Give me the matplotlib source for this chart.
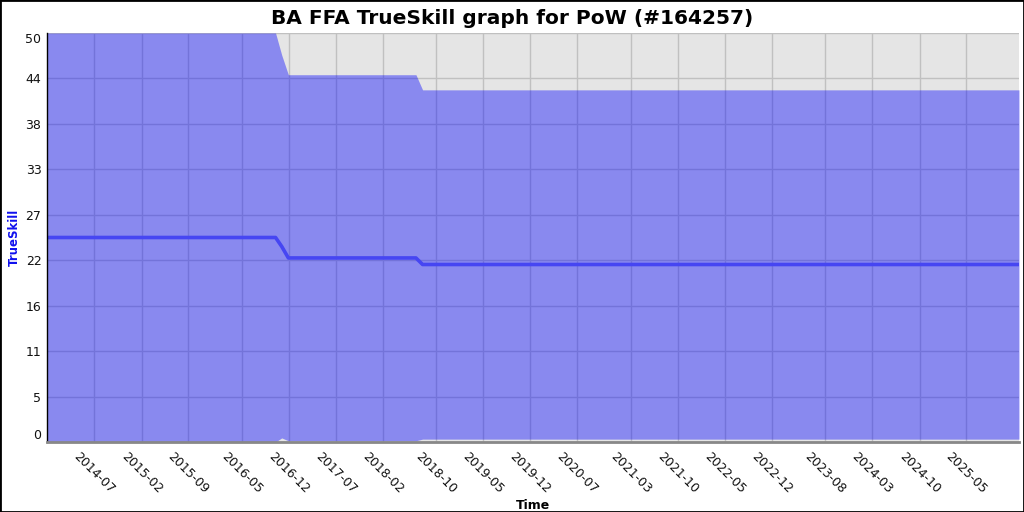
#!/usr/bin/env python3
"""TrueSkill history chart: mean line with a +/- 3 sigma band."""

import matplotlib

matplotlib.use("Agg")
import matplotlib.dates as mdates
import matplotlib.pyplot as plt
import numpy as np
import pandas as pd
from matplotlib.patches import Rectangle

TITLE = "BA FFA TrueSkill graph for PoW (#164257)"

# data
dates = pd.to_datetime([
    "2013-11-29", "2016-10-01", "2016-10-29", "2016-11-28",
    "2018-06-30", "2018-07-30", "2025-12-26",
])
mu = [25.0, 25.0, 23.9, 22.5, 22.5, 21.7, 21.7]
upper = [50.0, 50.0, 47.3, 44.9, 44.9, 43.05, 43.05]
lower = [0.0, 0.0, 0.5, 0.15, 0.15, 0.35, 0.35]

x_ticks = [
    "2014-07", "2015-02", "2015-09", "2016-05", "2016-12", "2017-07", "2018-02",
    "2018-10", "2019-05", "2019-12", "2020-07", "2021-03", "2021-10", "2022-05",
    "2022-12", "2023-08", "2024-03", "2024-10", "2025-05",
]
x_start = pd.Timestamp("2013-11-29")
x_end = pd.Timestamp("2025-12-26")
y_min, y_max = 0.0, 50.0
n_yticks = 9


def main():
    fig = plt.figure(figsize=(10.24, 5.12), dpi=100, facecolor="white")
    ax = fig.add_axes((47 / 1024, 70 / 512, 972 / 1024, 409 / 512))
    ax.set_facecolor("#e5e5e5")
    ax.set_axisbelow(True)

    ax.fill_between(dates, lower, upper, color="#0000ff", alpha=0.4, linewidth=0)
    ax.plot(dates, mu, color="#4646f2", linewidth=2.6, solid_joinstyle="round")

    ax.set_xlim(x_start, x_end)
    ax.set_ylim(y_min, y_max)

    ax.set_xticks(pd.to_datetime([t + "-01" for t in x_ticks]))
    ax.xaxis.set_major_formatter(mdates.DateFormatter("%Y-%m"))
    yt = np.linspace(y_min, y_max, n_yticks + 1)
    ax.set_yticks(yt)
    ax.set_yticklabels([str(int(v)) for v in yt])
    labels = ax.get_yticklabels()
    labels[0].set_va("bottom")
    labels[-1].set_va("top")

    ax.grid(True, color="#c0c0c0", linewidth=1.0)
    ax.tick_params(axis="both", length=0, labelsize=9, colors="#111111")
    ax.tick_params(axis="y", pad=4)
    ax.tick_params(axis="x", pad=6)
    plt.setp(ax.get_xticklabels(), rotation=-45, ha="center")

    for side in ("top", "right"):
        ax.spines[side].set_visible(False)
    ax.spines["left"].set_color("black")
    ax.spines["left"].set_linewidth(1.0)
    ax.spines["bottom"].set_color("#888888")
    ax.spines["bottom"].set_linewidth(2.0)

    ax.set_ylabel("TrueSkill", color="#1010ee", fontsize=8.5, fontweight="bold")
    ax.yaxis.set_label_coords(-26 / 972, 0.5)
    ax.set_xlabel("Time", fontsize=9, fontweight="bold", labelpad=2)
    fig.text(0.5, 0.964, TITLE, ha="center", va="center", fontsize=14.5, fontweight="bold")

    fig.patches.append(Rectangle((0, 0), 1, 1, transform=fig.transFigure,
                                 fill=False, edgecolor="black", linewidth=2.0))
    fig.savefig("out.png", dpi=100, facecolor=fig.get_facecolor())
    plt.close(fig)


if __name__ == "__main__":
    main()
